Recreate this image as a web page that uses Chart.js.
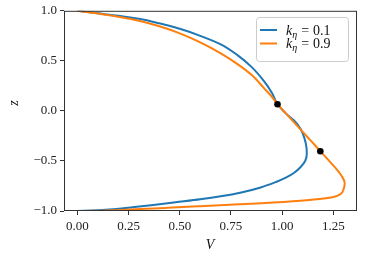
<!DOCTYPE html>
<html>
<head>
<meta charset="utf-8">
<script src="https://cdn.jsdelivr.net/npm/chart.js@4"></script>
<style>
  html, body { margin: 0; padding: 0; background: #fff; }
</style>
</head>
<body>
<canvas id="chart" width="377" height="260"></canvas>
<script>
// ── Data ────────────────────────────────────────────────────────────────────
// k_eta = 0.1 (blue)
const V_K01 = [0, 0.10, 0.20, 0.30, 0.40, 0.50, 0.60, 0.70, 0.78, 0.85, 0.91, 0.95, 0.977,
               1.02, 1.06, 1.09, 1.108, 1.118, 1.12, 1.112, 1.09, 1.06, 1.02, 0.97, 0.895,
               0.80, 0.70, 0.60, 0.48, 0.36, 0.27, 0.19, 0.10, 0];
const Z_K01 = [1, 0.975, 0.95, 0.92, 0.875, 0.82, 0.75, 0.665, 0.56, 0.44, 0.30, 0.18, 0.067,
               -0.03, -0.10, -0.18, -0.27, -0.36, -0.43, -0.50, -0.56, -0.615, -0.665, -0.71, -0.765,
               -0.815, -0.853, -0.883, -0.913, -0.943, -0.963, -0.98, -0.993, -1];
// k_eta = 0.9 (orange)
const V_K09 = [0, 0.10, 0.20, 0.30, 0.40, 0.50, 0.60, 0.70, 0.78, 0.85, 0.91, 0.95, 0.977,
               1.02, 1.06, 1.10, 1.145, 1.186, 1.225, 1.26, 1.29, 1.305, 1.30, 1.285, 1.25,
               1.18, 1.09, 0.90, 0.765, 0.60, 0.44, 0.28, 0.11, 0];
const Z_K09 = [1, 0.972, 0.94, 0.90, 0.845, 0.775, 0.685, 0.575, 0.47, 0.36, 0.23, 0.14, 0.067,
               -0.03, -0.12, -0.21, -0.31, -0.403, -0.49, -0.57, -0.65, -0.72, -0.78, -0.83, -0.86,
               -0.88, -0.898, -0.922, -0.935, -0.952, -0.968, -0.983, -0.997, -1];
// marked points
const V_DOTS = [0.977, 1.186];
const Z_DOTS = [0.067, -0.403];

const X_TICKS = [0, 0.25, 0.5, 0.75, 1.0, 1.25];
const Y_TICKS = [-1, -0.5, 0, 0.5, 1];
const SERIES_LABELS = ['0.1', '0.9'];

const BLUE   = '#1f77b4';
const ORANGE = '#ff7f0e';
const SPINE  = '#333';
const FONT   = '"Liberation Serif", "DejaVu Serif", serif';

const pts = (xs, ys) => xs.map((x, i) => ({ x, y: ys[i] }));
const fmtMinus = s => s.replace('-', '\u2212');

// ── Frame, legend and axis titles ───────────────────────────────────────────
const decor = {
  id: 'decor',
  afterDraw(chart) {
    const { ctx, chartArea: a } = chart;
    ctx.save();
    ctx.strokeStyle = SPINE;
    ctx.lineWidth = 1;
    ctx.strokeRect(a.left + 0.5, a.top + 0.5, a.right - a.left - 1, a.bottom - a.top - 1);

    // legend
    ctx.fillStyle = 'rgba(255,255,255,0.8)';
    ctx.strokeStyle = '#cccccc';
    ctx.beginPath();
    ctx.roundRect(256.5, 17.5, 92, 44, 3);
    ctx.fill();
    ctx.stroke();
    [BLUE, ORANGE].forEach((c, i) => {
      const y = 30 + i * 13.5;
      ctx.strokeStyle = c;
      ctx.lineWidth = 2;
      ctx.beginPath();
      ctx.moveTo(260, y);
      ctx.lineTo(277, y);
      ctx.stroke();
      ctx.fillStyle = '#111';
      ctx.textBaseline = 'alphabetic';
      let x = 286;
      ctx.font = 'italic 14px ' + FONT;
      ctx.fillText('k', x, y + 4.5);
      x += ctx.measureText('k').width;
      ctx.font = 'italic 10px ' + FONT;
      ctx.fillText('\u03b7', x, y + 7.5);
      x += ctx.measureText('\u03b7').width + 4;
      ctx.font = '14px ' + FONT;
      ctx.fillText('=', x, y + 4.5);
      x += ctx.measureText('=').width + 4;
      ctx.fillText(SERIES_LABELS[i], x, y + 4.5);
    });

    // axis titles
    ctx.fillStyle = '#111';
    ctx.font = 'italic 14px ' + FONT;
    ctx.textAlign = 'center';
    ctx.textBaseline = 'middle';
    ctx.fillText('V', 210, 245);
    ctx.translate(14, 103);
    ctx.rotate(-Math.PI / 2);
    ctx.fillText('z', 0, 0);
    ctx.restore();
  }
};

// curves are single-valued in z, so interpolate monotonically along the y axis
const lineSet = (label, xs, ys, color) => ({
  label,
  data: pts(xs, ys),
  showLine: true,
  borderColor: color,
  backgroundColor: color,
  borderWidth: 2,
  pointRadius: 0,
  cubicInterpolationMode: 'monotone',
  fill: false,
});

new Chart(document.getElementById('chart').getContext('2d'), {
  type: 'scatter',
  data: {
    datasets: [
      {
        label: 'points',
        data: pts(V_DOTS, Z_DOTS),
        pointRadius: 3.3,
        pointBackgroundColor: '#000',
        pointBorderWidth: 0,
        showLine: false,
      },
      lineSet('k=0.9', V_K09, Z_K09, ORANGE),
      lineSet('k=0.1', V_K01, Z_K01, BLUE),
    ],
  },
  options: {
    indexAxis: 'y',
    responsive: false,
    animation: false,
    devicePixelRatio: 1,
    layout: { padding: { top: 10, right: 20, left: 0, bottom: 0 } },
    plugins: { legend: { display: false }, tooltip: { enabled: false } },
    scales: {
      x: {
        type: 'linear',
        position: 'bottom',
        min: -0.065,
        max: 1.365,
        afterFit: s => { s.height = 49; },
        afterBuildTicks: s => { s.ticks = X_TICKS.map(v => ({ value: v })); },
        border: { display: false },
        grid: { drawOnChartArea: false, drawTicks: true, tickLength: 4, color: SPINE },
        ticks: {
          color: '#222',
          padding: 4,
          maxRotation: 0,
          font: { family: FONT, size: 13 },
          callback: v => fmtMinus(v.toFixed(2)),
        },
      },
      y: {
        type: 'linear',
        position: 'left',
        min: -1,
        max: 1,
        afterFit: s => { s.width = 64; },
        afterBuildTicks: s => { s.ticks = Y_TICKS.map(v => ({ value: v })); },
        border: { display: false },
        grid: { drawOnChartArea: false, drawTicks: true, tickLength: 4, color: SPINE },
        ticks: {
          color: '#222',
          padding: 3,
          font: { family: FONT, size: 13 },
          callback: v => fmtMinus(v.toFixed(1)),
        },
      },
    },
  },
  plugins: [decor],
});
</script>
</body>
</html>
